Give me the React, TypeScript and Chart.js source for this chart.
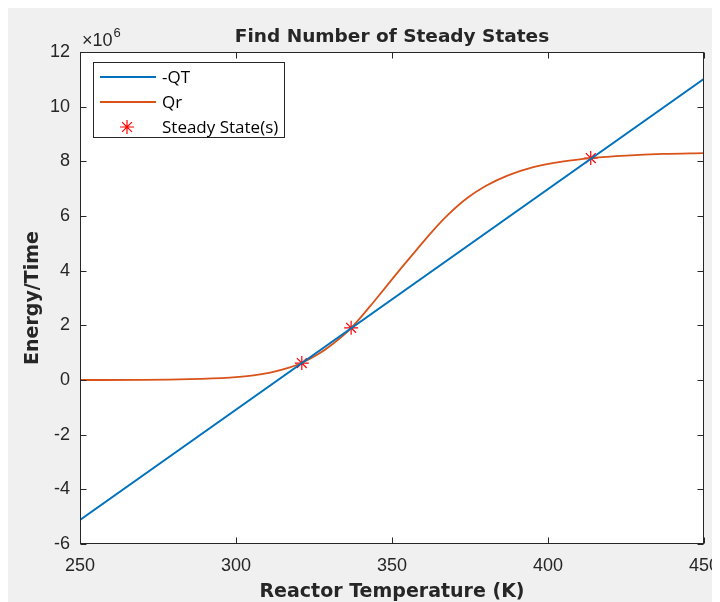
import { useEffect, useRef } from "react";
import { Chart, registerables } from "chart.js";

Chart.register(...registerables);

// Reactor temperature span (K) and the heat-removal line -QT at its ends (×10^6)
const tempRange = [250, 450];
const qtLine = [-5.12, 11.02];

// Heat generation Qr (×10^6) sampled along the temperature axis
const qrTemps = [250, 270, 285, 298, 305, 311, 317, 321, 326, 331, 337, 343, 348, 353, 358, 363, 368, 374, 380, 387, 395, 405, 414, 425, 437, 450];
const qrValues = [0.0, 0.005, 0.03, 0.09, 0.16, 0.27, 0.45, 0.62, 0.92, 1.32, 1.91, 2.7, 3.4, 4.1, 4.78, 5.45, 6.05, 6.65, 7.1, 7.48, 7.78, 8.0, 8.12, 8.21, 8.27, 8.3];

// Intersections of -QT and Qr
const steadyTemps = [321.1, 336.9, 413.7];
const steadyValues = [0.62, 1.91, 8.12];

const xTicks = [250, 300, 350, 400, 450];
const yTicks = [-6, -4, -2, 0, 2, 4, 6, 8, 10, 12];

const AXIS_COLOR = "#262626";
const TICK_FONT = "'Liberation Sans', Arial, sans-serif";
const TITLE_FONT = "'DejaVu Sans', sans-serif";
const LEGEND_FONT = "'Open Sans', 'Liberation Sans', sans-serif";

const framePlugin = {
  id: "matlabFrame",
  beforeDraw(chart: any) {
    const { ctx, chartArea: ca, width, height } = chart;
    ctx.save();
    ctx.fillStyle = "#f0f0f0";
    ctx.fillRect(0, 0, width, height);
    ctx.fillStyle = "#ffffff";
    ctx.fillRect(ca.left, ca.top, ca.right - ca.left, ca.bottom - ca.top);
    ctx.restore();
  },
  afterDraw(chart: any) {
    const { ctx, chartArea: ca, scales } = chart;
    const xs = scales.x;
    const ys = scales.y;
    const tick = 6;
    ctx.save();

    // axes box with inward ticks on all four sides
    ctx.strokeStyle = AXIS_COLOR;
    ctx.lineWidth = 1;
    const l = Math.round(ca.left) + 0.5;
    const r = Math.round(ca.right) - 0.5;
    const t = Math.round(ca.top) + 0.5;
    const b = Math.round(ca.bottom) - 0.5;
    ctx.strokeRect(l, t, r - l, b - t);
    ctx.beginPath();
    xTicks.forEach((v) => {
      const px = Math.round(xs.getPixelForValue(v)) + 0.5;
      ctx.moveTo(px, b);
      ctx.lineTo(px, b - tick);
      ctx.moveTo(px, t);
      ctx.lineTo(px, t + tick);
    });
    yTicks.forEach((v) => {
      const py = Math.round(ys.getPixelForValue(v)) + 0.5;
      ctx.moveTo(l, py);
      ctx.lineTo(l + tick, py);
      ctx.moveTo(r, py);
      ctx.lineTo(r - tick, py);
    });
    ctx.stroke();

    // exponent label
    ctx.fillStyle = AXIS_COLOR;
    ctx.textBaseline = "middle";
    ctx.textAlign = "left";
    ctx.font = `18px ${TICK_FONT}`;
    const expX = ca.left + 2;
    ctx.fillText("\u00d710", expX, ca.top - 11);
    const w = ctx.measureText("\u00d710").width;
    ctx.font = `13px ${TICK_FONT}`;
    ctx.fillText("6", expX + w + 1, ca.top - 19);

    // title and axis titles
    const cx = (ca.left + ca.right) / 2;
    const cy = (ca.top + ca.bottom) / 2;
    ctx.textAlign = "center";
    ctx.font = `bold 18.5px ${TITLE_FONT}`;
    ctx.fillText("Find Number of Steady States", cx, ca.top - 15);
    ctx.font = `bold 19px ${TITLE_FONT}`;
    ctx.fillText("Reactor Temperature (K)", cx, ca.bottom + 48);
    ctx.save();
    ctx.translate(25, cy);
    ctx.rotate(-Math.PI / 2);
    ctx.fillText("Energy/Time", 0, 0);
    ctx.restore();

    // legend box inside the axes, upper left
    const ds = chart.data.datasets;
    const lx = ca.left + 13;
    const ly = ca.top + 10;
    const lw = 191;
    const lh = 75;
    ctx.fillStyle = "#ffffff";
    ctx.fillRect(lx, ly, lw, lh);
    ctx.strokeStyle = AXIS_COLOR;
    ctx.lineWidth = 1;
    ctx.strokeRect(Math.round(lx) + 0.5, Math.round(ly) + 0.5, lw, lh);
    ctx.font = `17px ${LEGEND_FONT}`;
    ctx.textAlign = "left";
    ds.forEach((d: any, i: number) => {
      const ry = ly + 15 + i * 25;
      if (d.showLine) {
        ctx.strokeStyle = d.borderColor;
        ctx.lineWidth = d.borderWidth;
        ctx.beginPath();
        ctx.moveTo(lx + 7, ry);
        ctx.lineTo(lx + 63, ry);
        ctx.stroke();
      } else {
        const sx = lx + 34;
        const rr = d.pointRadius;
        ctx.strokeStyle = d.borderColor;
        ctx.lineWidth = d.borderWidth;
        ctx.beginPath();
        ctx.moveTo(sx - rr, ry);
        ctx.lineTo(sx + rr, ry);
        ctx.moveTo(sx, ry - rr);
        ctx.lineTo(sx, ry + rr);
        const q = rr * Math.SQRT1_2;
        ctx.moveTo(sx - q, ry - q);
        ctx.lineTo(sx + q, ry + q);
        ctx.moveTo(sx - q, ry + q);
        ctx.lineTo(sx + q, ry - q);
        ctx.stroke();
      }
      ctx.fillStyle = "#000000";
      ctx.fillText(d.label, lx + 69, ry + 1);
    });
    ctx.restore();
  },
};

export default function App() {
  const canvasRef = useRef<HTMLCanvasElement | null>(null);

  useEffect(() => {
    document.body.style.overflow = "hidden";
    const canvas = canvasRef.current;
    if (!canvas) return;

    const chart = new Chart(canvas, {
      type: "scatter",
      data: {
        datasets: [
          {
            label: "-QT",
            data: tempRange.map((x, i) => ({ x, y: qtLine[i] })),
            showLine: true,
            borderColor: "#0072BD",
            borderWidth: 1.8,
            pointRadius: 0,
          },
          {
            label: "Qr",
            data: qrTemps.map((x, i) => ({ x, y: qrValues[i] })),
            showLine: true,
            borderColor: "#D95319",
            borderWidth: 1.8,
            pointRadius: 0,
            cubicInterpolationMode: "monotone",
          },
          {
            label: "Steady State(s)",
            data: steadyTemps.map((x, i) => ({ x, y: steadyValues[i] })),
            showLine: false,
            pointStyle: "star",
            pointRadius: 7,
            borderColor: "#FF0000",
            backgroundColor: "#FF0000",
            borderWidth: 1.2,
          },
        ] as any,
      },
      options: {
        animation: false,
        responsive: false,
        events: [],
        layout: { padding: { left: 0, right: 16, top: 44, bottom: 0 } },
        plugins: {
          legend: { display: false },
          tooltip: { enabled: false },
          title: { display: false },
        },
        scales: {
          x: {
            type: "linear",
            min: tempRange[0],
            max: tempRange[1],
            grid: { display: false, drawTicks: false },
            border: { display: false },
            afterBuildTicks: (s: any) => {
              s.ticks = xTicks.map((value) => ({ value }));
            },
            afterFit: (s: any) => {
              s.height = 58;
              s.paddingLeft = 0;
              s.paddingRight = 0;
            },
            ticks: {
              autoSkip: false,
              maxRotation: 0,
              minRotation: 0,
              padding: 11,
              color: AXIS_COLOR,
              font: { family: TICK_FONT, size: 18 },
            },
          },
          y: {
            type: "linear",
            min: yTicks[0],
            max: yTicks[yTicks.length - 1],
            grid: { display: false, drawTicks: false },
            border: { display: false },
            afterBuildTicks: (s: any) => {
              s.ticks = yTicks.map((value) => ({ value }));
            },
            afterFit: (s: any) => {
              s.width = 72;
              s.paddingTop = 0;
              s.paddingBottom = 0;
            },
            ticks: {
              autoSkip: false,
              padding: 10,
              color: AXIS_COLOR,
              font: { family: TICK_FONT, size: 18 },
            },
          },
        },
      },
      plugins: [framePlugin],
    });

    return () => chart.destroy();
  }, []);

  return (
    <div style={{ width: 712, height: 594 }}>
      <canvas ref={canvasRef} width={712} height={594} style={{ display: "block" }} />
    </div>
  );
}
